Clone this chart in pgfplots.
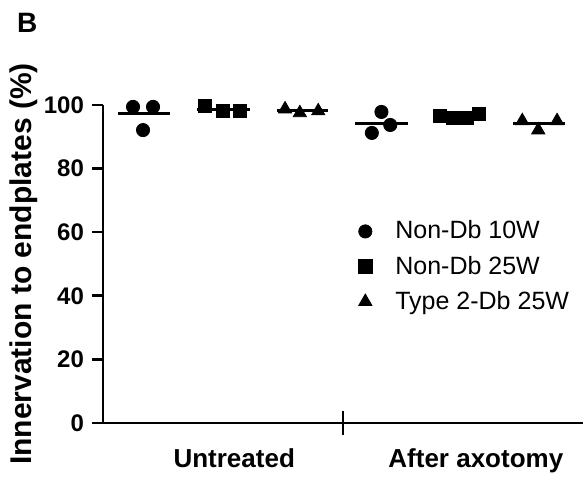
\documentclass[border=0pt]{standalone}
\usepackage{fontspec}
\setmainfont{Liberation Sans}
\usepackage{pgfplots}
\pgfplotsset{compat=1.18}
\begin{document}
\begin{tikzpicture}
\begin{axis}[
  scale only axis, width=240pt, height=159pt,
  xmin=0, xmax=6, ymin=0, ymax=100,
  axis x line=bottom, axis y line=left,
  axis line style={-, line width=1.3pt},
  clip=false,
  ytick={0,20,...,100},
  xtick={1.64,4.66}, xticklabels={Untreated, After axotomy},
  xtick style={draw=none},
  ytick style={line width=1.3pt, black},
  major tick length=5.5pt,
  tick align=outside,
  extra x ticks={3}, extra x tick labels={},
  extra x tick style={major tick length=12pt, tick align=center,
    xtick style={draw=black, line width=1.3pt}},
  /pgf/number format/assume math mode=true,
  y tick label style={font=\fontsize{12}{14}\selectfont\bfseries, xshift=-0.5pt},
  x tick label style={font=\fontsize{13}{15}\selectfont\bfseries, yshift=-4pt},
  ylabel={Innervation to endplates (\%)},
  ylabel style={font=\fontsize{15}{17}\selectfont\bfseries, yshift=-4pt},
  legend image code/.code={\draw[#1] plot coordinates {(0.1cm,0cm)}; \path (-0.2cm,0cm) (0.55cm,0cm);},
  legend style={draw=none, fill=none, at={(axis cs:2.98,66.2)}, anchor=north west,
    font=\fontsize{12.5}{15}\selectfont, row sep=3pt, cells={anchor=west}},
]
\addplot[only marks, mark=*, mark size=3.3pt, black] coordinates {
  (0.375,99.4) (0.625,99.4) (0.5,92.1)
  (3.48,97.8) (3.59,93.7) (3.36,91.2)};
\addlegendentry{Non-Db 10W}
\addplot[only marks, mark=square*, mark size=3.4pt, black] coordinates {
  (1.275,99.7) (1.5,98.1) (1.71,98.1)
  (4.21,96.5) (4.375,95.9) (4.55,95.9) (4.7,97.2)};
\addlegendentry{Non-Db 25W}
\addplot[only marks, mark=triangle*, mark size=3.8pt, black] coordinates {
  (2.275,98.7) (2.46,97.5) (2.69,98.1)
  (5.24,95.0) (5.44,92.1) (5.675,95.0)};
\addlegendentry{Type 2-Db 25W}
% mean lines
\addplot[forget plot, line width=1.5pt] coordinates {(0.19,97.2) (0.84,97.2)};
\addplot[forget plot, line width=1.5pt] coordinates {(1.17,98.7) (1.84,98.7)};
\addplot[forget plot, line width=1.5pt] coordinates {(2.18,98.2) (2.81,98.2)};
\addplot[forget plot, line width=1.5pt] coordinates {(3.15,94.3) (3.81,94.3)};
\addplot[forget plot, line width=1.5pt] coordinates {(4.15,96.4) (4.78,96.4)};
\addplot[forget plot, line width=1.5pt] coordinates {(5.13,94.3) (5.78,94.3)};
\node[font=\fontsize{14}{16}\selectfont\bfseries] at (rel axis cs:-0.158,1.258) {B};
\path (rel axis cs:-0.2146,-0.154) (rel axis cs:1.004,1.330);
\end{axis}
\end{tikzpicture}
\end{document}
